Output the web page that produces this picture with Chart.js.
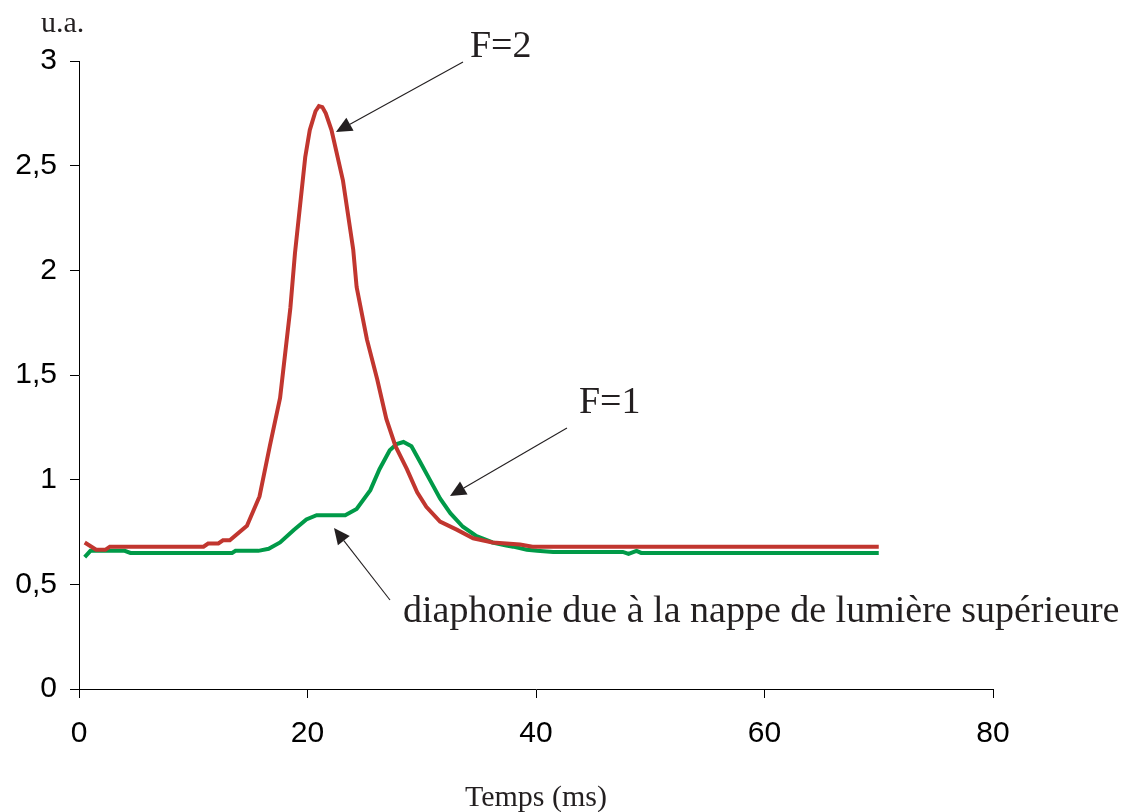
<!DOCTYPE html>
<html>
<head>
<meta charset="utf-8">
<script src="https://cdn.jsdelivr.net/npm/chart.js@4"></script>
<style>
  html, body { margin: 0; padding: 0; background: #fff; }
  #wrap { width: 1121px; height: 812px; }
</style>
</head>
<body>
<div id="wrap"><canvas id="c" width="1121" height="812"></canvas></div>
<script>
// ---- Data (time in ms, signal in u.a.) ----
const timeF2 = [0.5, 1.5, 2.3, 2.7, 10.9, 11.3, 12.2, 12.6, 13.2, 14.7, 15.8, 16.7, 17.6, 18.5, 18.9, 19.8, 20.2, 20.7, 21.0, 21.3, 21.6, 22.1, 23.1, 24.0, 24.3, 25.2, 26.1, 26.9, 27.7, 28.7, 29.6, 30.4, 31.6, 33.1, 34.5, 36.2, 38.6, 39.7, 70.0];
const valueF2 = [0.70, 0.665, 0.665, 0.68, 0.68, 0.695, 0.695, 0.71, 0.71, 0.78, 0.92, 1.16, 1.39, 1.82, 2.08, 2.54, 2.67, 2.76, 2.785, 2.78, 2.75, 2.67, 2.43, 2.10, 1.92, 1.67, 1.48, 1.29, 1.16, 1.05, 0.94, 0.87, 0.80, 0.76, 0.72, 0.70, 0.69, 0.68, 0.68];

const timeF1 = [0.5, 1.0, 4.0, 4.5, 13.4, 13.7, 15.7, 16.6, 17.6, 18.8, 19.9, 20.8, 23.3, 24.3, 25.5, 26.3, 27.2, 27.8, 28.4, 29.1, 29.8, 30.7, 31.6, 32.5, 33.6, 34.8, 36.2, 37.4, 38.0, 39.2, 40.1, 41.5, 47.6, 48.1, 48.8, 49.2, 70.0];
const valueF1 = [0.63, 0.66, 0.66, 0.65, 0.65, 0.66, 0.66, 0.67, 0.70, 0.76, 0.81, 0.83, 0.83, 0.86, 0.95, 1.05, 1.14, 1.17, 1.18, 1.16, 1.09, 1.00, 0.91, 0.84, 0.775, 0.73, 0.70, 0.685, 0.68, 0.665, 0.66, 0.655, 0.655, 0.645, 0.66, 0.65, 0.65];

const xTicks = [0, 20, 40, 60, 80];
const yTicks = [0, 0.5, 1, 1.5, 2, 2.5, 3];

const xTitle = "Temps (ms)";
const yTitle = "u.a.";

// Annotations (anchor points in data units)
const notes = [
  { text: "F=2", tx: 34.22, ty: 3.019, from: [33.61, 2.995], to: [22.49, 2.661] },
  { text: "F=1", tx: 43.76, ty: 1.318, from: [42.71, 1.247], to: [32.47, 0.922] },
  { text: "diaphonie due à la nappe de lumière supérieure", tx: 28.36, ty: 0.320, from: [27.22, 0.425], to: [22.32, 0.769] }
];

const toPoints = (xs, ys) => xs.map((x, i) => ({ x: x, y: ys[i] }));

const SERIF = '"Liberation Serif", "Times New Roman", serif';
const SANS = '"Liberation Sans", Arial, sans-serif';

const annotPlugin = {
  id: 'annot',
  afterDraw(chart) {
    const ctx = chart.ctx;
    const xs = chart.scales.x, ys = chart.scales.y;
    ctx.save();
    ctx.fillStyle = '#231f20';
    ctx.strokeStyle = '#231f20';
    ctx.textBaseline = 'alphabetic';
    ctx.textAlign = 'left';
    ctx.font = '38px ' + SERIF;
    notes.forEach(n => {
      ctx.fillText(n.text, xs.getPixelForValue(n.tx), ys.getPixelForValue(n.ty));
      const x1 = xs.getPixelForValue(n.from[0]), y1 = ys.getPixelForValue(n.from[1]);
      const x2 = xs.getPixelForValue(n.to[0]), y2 = ys.getPixelForValue(n.to[1]);
      const dx = x2 - x1, dy = y2 - y1, L = Math.hypot(dx, dy);
      const ux = dx / L, uy = dy / L;
      const hl = 16, hw = 7.5;
      const bx = x2 - ux * hl, by = y2 - uy * hl;
      ctx.lineWidth = 1.1;
      ctx.beginPath();
      ctx.moveTo(x1, y1);
      ctx.lineTo(bx, by);
      ctx.stroke();
      ctx.beginPath();
      ctx.moveTo(x2, y2);
      ctx.lineTo(bx - uy * hw, by + ux * hw);
      ctx.lineTo(bx + uy * hw, by - ux * hw);
      ctx.closePath();
      ctx.fill();
    });
    // axis titles
    ctx.font = '30px ' + SERIF;
    ctx.textAlign = 'left';
    ctx.fillText(yTitle, 41, 32);
    ctx.textAlign = 'center';
    ctx.fillText(xTitle, (chart.chartArea.left + chart.chartArea.right) / 2, 806);
    ctx.restore();
  }
};

new Chart(document.getElementById('c'), {
  type: 'line',
  data: {
    datasets: [
      { label: 'F=2', data: toPoints(timeF2, valueF2), borderColor: '#c1362f', borderWidth: 4, pointRadius: 0, tension: 0, fill: false },
      { label: 'F=1', data: toPoints(timeF1, valueF1), borderColor: '#009a48', borderWidth: 4, pointRadius: 0, tension: 0, fill: false }
    ]
  },
  options: {
    responsive: false,
    animation: false,
    events: [],
    layout: { padding: { top: 61, right: 128, left: 0, bottom: 0 } },
    plugins: { legend: { display: false }, tooltip: { enabled: false }, title: { display: false } },
    scales: {
      x: {
        type: 'linear', min: 0, max: 80,
        afterBuildTicks: s => { s.ticks = xTicks.map(v => ({ value: v })); },
        afterFit: s => { s.height = 123; },
        ticks: { color: '#000', font: { family: SANS, size: 30 }, padding: 18, maxRotation: 0 },
        grid: { display: true, drawOnChartArea: false, drawTicks: true, tickLength: 9, color: '#000', lineWidth: 1 },
        border: { display: true, color: '#000', width: 1 }
      },
      y: {
        type: 'linear', min: 0, max: 3,
        afterBuildTicks: s => { s.ticks = yTicks.map(v => ({ value: v })); },
        afterFit: s => { s.width = 79; },
        ticks: { color: '#000', font: { family: SANS, size: 30 }, padding: 13, callback: v => String(v).replace('.', ',') },
        grid: { display: true, drawOnChartArea: false, drawTicks: true, tickLength: 9, color: '#000', lineWidth: 1 },
        border: { display: true, color: '#000', width: 1 }
      }
    }
  },
  plugins: [annotPlugin]
});
</script>
</body>
</html>
